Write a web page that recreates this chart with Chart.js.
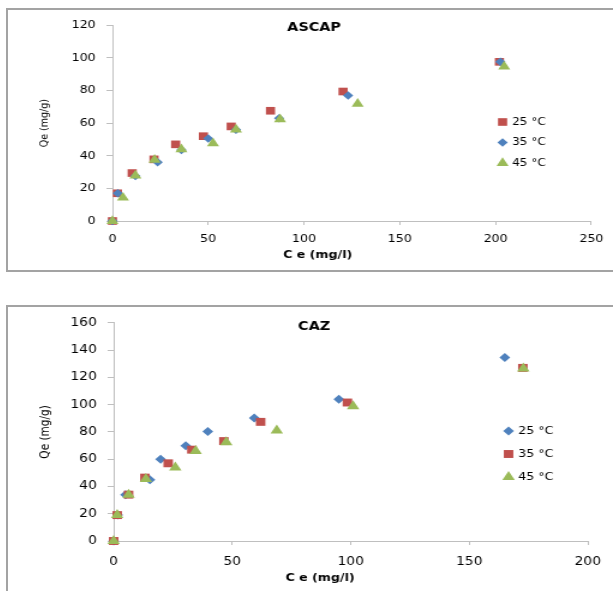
<!DOCTYPE html>
<html>
<head>
<meta charset="utf-8">
<script src="https://cdn.jsdelivr.net/npm/chart.js@4.4.0/dist/chart.umd.min.js"></script>
<style>
  html, body { margin: 0; padding: 0; background: #fff; overflow: hidden; }
  body { width: 613px; height: 591px; position: relative; }
  .box { position: absolute; left: 6px; width: 660px; border: 2px solid #a3a3a3; }
  #box1 { top: 8px; height: 260px; }
  #box2 { top: 305px; height: 330px; }
  canvas { position: absolute; left: 8px; }
  #c1 { top: 10px; width: 605px !important; height: 260px !important; }
  #c2 { top: 307px; width: 605px !important; height: 284px !important; }
</style>
</head>
<body>
<div class="box" id="box1"></div>
<div class="box" id="box2"></div>
<canvas id="c1" width="504" height="260" style="width:605px;height:260px"></canvas>
<canvas id="c2" width="504" height="284" style="width:605px;height:284px"></canvas>
<script>
// colours of the three temperatures
var red = '#C0504D', blue = '#4F81BD', green = '#9BBB59';

// ASCAP
var ascapCe25 = [0, 2.6, 10.3, 21.7, 33, 47.5, 62, 82.5, 120.4, 202];
var ascapQe25 = [0, 17, 29.4, 37.8, 47, 52, 58, 67.6, 79.4, 97.6];
var ascapCe35 = [0, 2.8, 12, 23.6, 36, 50, 64.5, 87, 123, 202.5];
var ascapQe35 = [0, 17, 27.6, 36, 43.6, 50.6, 56, 63, 77, 97.6];
var ascapCe45 = [0, 5.5, 12, 22, 36, 52.5, 64.5, 87.5, 128, 204.5];
var ascapQe45 = [0, 14.3, 27.8, 37.5, 44, 47.6, 56, 62.3, 71.8, 94.7];
var ascapXTicks = [0, 50, 100, 150, 200, 250];
var ascapYTicks = [0, 20, 40, 60, 80, 100, 120];

// CAZ
var cazCe25 = [0, 1.7, 5, 15.3, 19.8, 30.4, 39.7, 59.3, 95, 165];
var cazQe25 = [0, 19, 34, 45, 60, 69.8, 80.4, 90.3, 104, 134.7];
var cazCe35 = [0, 1.5, 6.3, 13.2, 23, 33, 46.5, 62, 98.6, 172.6];
var cazQe35 = [0, 19, 34, 46.5, 57, 67, 73.3, 87.4, 101.6, 127];
var cazCe45 = [0, 1.5, 6.3, 13.6, 26, 34.6, 47.5, 68.8, 101, 172.8];
var cazQe45 = [0, 19, 34, 45.5, 54, 66, 72.5, 81, 98.8, 126.6];
var cazXTicks = [0, 50, 100, 150, 200];
var cazYTicks = [0, 20, 40, 60, 80, 100, 120, 140, 160];

Chart.defaults.font.family = '"DejaVu Sans", sans-serif';
Chart.defaults.color = '#000';

function series(label, ce, qe, color, style, radius, order) {
    return {
        label: label,
        data: ce.map(function (x, i) { return {x: x, y: qe[i]}; }),
        pointStyle: style,
        pointRadius: radius,
        pointHoverRadius: radius,
        backgroundColor: color,
        borderColor: color,
        pointBorderWidth: 0,
        showLine: false,
        clip: false,
        order: order
    };
}

function marker(ctx, style, x, y, r, color) {
    ctx.fillStyle = color;
    ctx.beginPath();
    if (style === 'rect') {
        var s = r * Math.SQRT1_2;
        ctx.rect(x - s, y - s, 2 * s, 2 * s);
    } else if (style === 'rectRot') {
        ctx.moveTo(x - r, y);
        ctx.lineTo(x, y - r);
        ctx.lineTo(x + r, y);
        ctx.lineTo(x, y + r);
        ctx.closePath();
    } else {
        ctx.moveTo(x, y - r);
        ctx.lineTo(x + r * 0.866, y + r / 2);
        ctx.lineTo(x - r * 0.866, y + r / 2);
        ctx.closePath();
    }
    ctx.fill();
}

// title, x axis title and legend sit inside the plot like in the sheet
function overlay(cfg) {
    return {
        id: 'overlay',
        afterDraw: function (chart) {
            var ctx = chart.ctx;
            ctx.save();
            ctx.fillStyle = '#000';
            ctx.textAlign = 'center';
            ctx.textBaseline = 'middle';
            ctx.font = 'bold 12px "DejaVu Sans"';
            ctx.fillText(cfg.title, cfg.titleX, cfg.titleY);
            ctx.font = 'bold ' + cfg.xTitleSize + 'px "DejaVu Sans"';
            ctx.fillText(cfg.xTitle, cfg.xTitleX, cfg.xTitleY);

            ctx.textAlign = 'left';
            ctx.font = cfg.legendSize + 'px "DejaVu Sans"';
            chart.data.datasets.forEach(function (ds, i) {
                var y = cfg.legendY + i * cfg.legendGap;
                marker(ctx, ds.pointStyle, cfg.legendX, y, ds.pointRadius, ds.backgroundColor);
                ctx.fillStyle = '#000';
                ctx.fillText(ds.label, cfg.legendX + 8, y);
            });
            ctx.restore();
        }
    };
}

function scales(xTicks, yTicks, yWidth, xHeight, xPad, tickSize, yTitleSize) {
    var axisColor = '#bfbfbf';
    return {
        x: {
            type: 'linear',
            min: xTicks[0],
            max: xTicks[xTicks.length - 1],
            afterBuildTicks: function (s) { s.ticks = xTicks.map(function (v) { return {value: v}; }); },
            afterFit: function (s) { s.height = xHeight; },
            ticks: { font: {size: tickSize}, padding: xPad, maxRotation: 0, autoSkip: false },
            grid: { drawOnChartArea: false, tickLength: 4, color: axisColor },
            border: { color: axisColor }
        },
        y: {
            type: 'linear',
            min: yTicks[0],
            max: yTicks[yTicks.length - 1],
            afterBuildTicks: function (s) { s.ticks = yTicks.map(function (v) { return {value: v}; }); },
            afterFit: function (s) { s.width = yWidth; },
            ticks: { font: {size: tickSize}, padding: 9, autoSkip: false },
            grid: { drawOnChartArea: false, tickLength: 5, color: axisColor },
            border: { color: axisColor },
            title: { display: true, text: 'Qe (mg/g)', font: {size: yTitleSize}, padding: {top: 25, bottom: 0} }
        }
    };
}

new Chart(document.getElementById('c1'), {
    type: 'scatter',
    data: {
        datasets: [
            series('25 °C', ascapCe25, ascapQe25, red, 'rect', 5.4, 2),
            series('35 °C', ascapCe35, ascapQe35, blue, 'rectRot', 4.3, 1),
            series('45 °C', ascapCe45, ascapQe45, green, 'triangle', 5.8, 0)
        ]
    },
    options: {
        responsive: false,
        animation: false,
        events: [],
        layout: { padding: {left: 0, right: 14, top: 7, bottom: 0} },
        plugins: { legend: {display: false}, tooltip: {enabled: false} },
        scales: scales(ascapXTicks, ascapYTicks, 87, 49, 8, 10.5, 9.5)
    },
    plugins: [overlay({
        title: 'ASCAP', titleX: 255, titleY: 18,
        xTitle: 'C e (mg/l)', xTitleSize: 10.5, xTitleX: 258, xTitleY: 245,
        legendX: 412, legendY: 112, legendGap: 20.5, legendSize: 10
    })]
});

new Chart(document.getElementById('c2'), {
    type: 'scatter',
    data: {
        datasets: [
            series('25 °C', cazCe25, cazQe25, blue, 'rectRot', 4.5, 2),
            series('35 °C', cazCe35, cazQe35, red, 'rect', 5.6, 1),
            series('45 °C', cazCe45, cazQe45, green, 'triangle', 6, 0)
        ]
    },
    options: {
        responsive: false,
        animation: false,
        events: [],
        layout: { padding: {left: 0, right: 13, top: 7, bottom: 0} },
        plugins: { legend: {display: false}, tooltip: {enabled: false} },
        scales: scales(cazXTicks, cazYTicks, 88, 50, 10, 11.5, 10.5)
    },
    plugins: [overlay({
        title: 'CAZ', titleX: 255, titleY: 20,
        xTitle: 'C e (mg/l)', xTitleSize: 10.5, xTitleX: 260, xTitleY: 271,
        legendX: 417, legendY: 124, legendGap: 23, legendSize: 10.5
    })]
});
</script>
</body>
</html>
